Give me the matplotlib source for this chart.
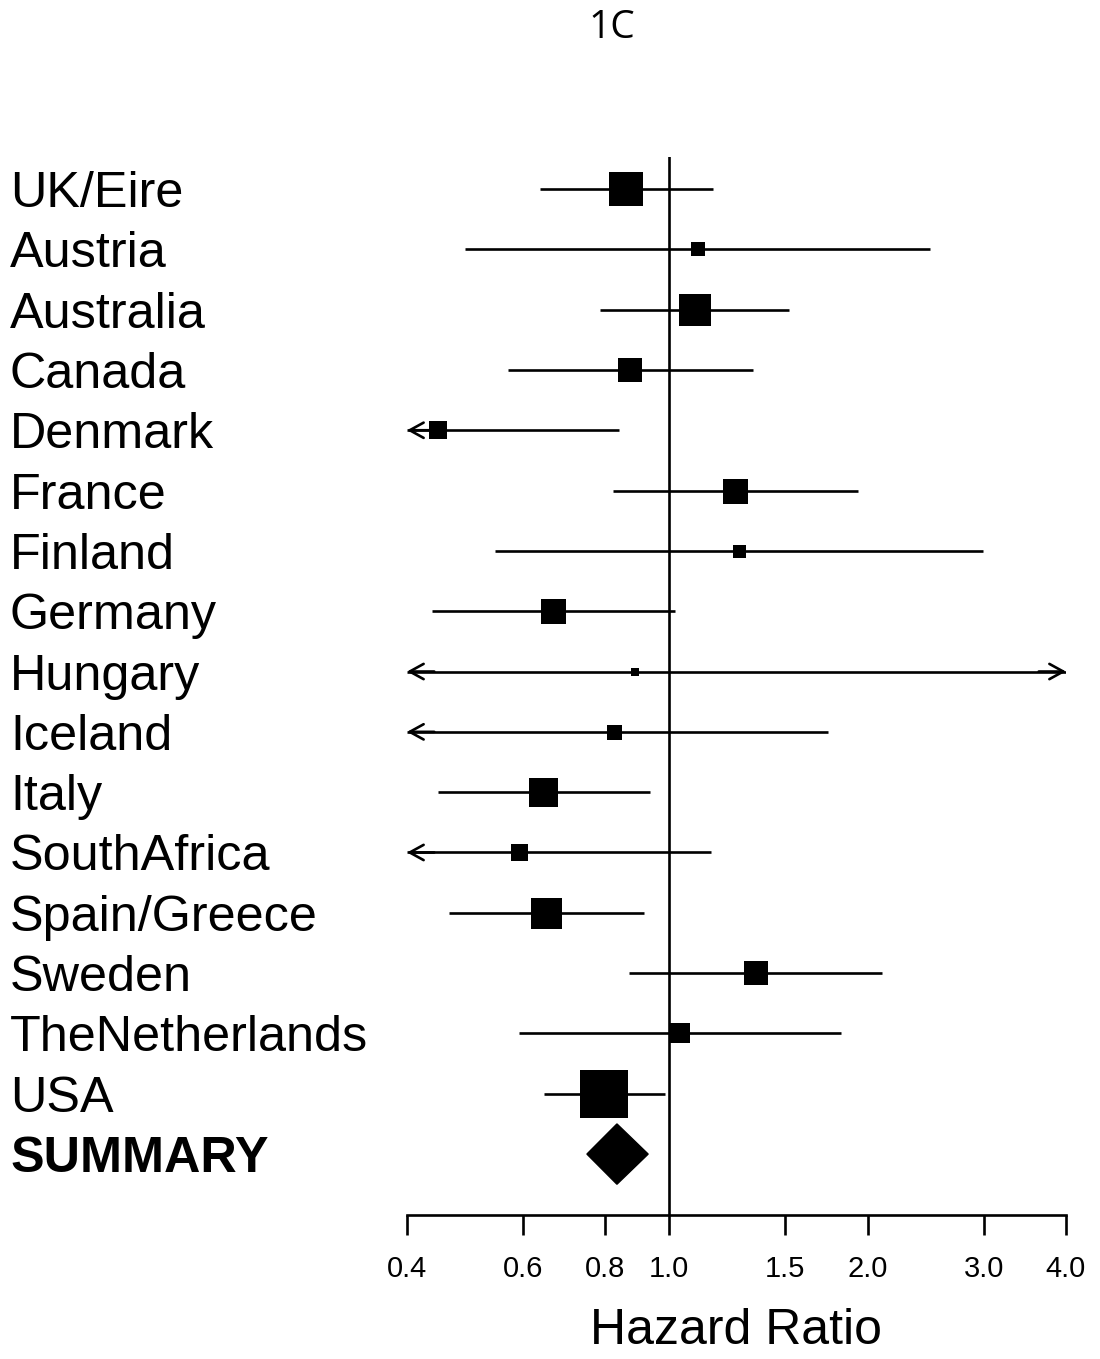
import matplotlib
matplotlib.use("Agg")
import matplotlib.pyplot as plt
import matplotlib.transforms as mtransforms
from matplotlib.ticker import NullLocator

# Forest plot data (hazard ratios)
countries = ["UK/Eire", "Austria", "Australia", "Canada", "Denmark", "France",
             "Finland", "Germany", "Hungary", "Iceland", "Italy", "SouthAfrica",
             "Spain/Greece", "Sweden", "TheNetherlands", "USA"]
hr = [0.859, 1.105, 1.094, 0.871, 0.446, 1.258, 1.276, 0.666, 0.887, 0.824,
      0.643, 0.592, 0.650, 1.354, 1.038, 0.796]
lower = [0.637, 0.490, 0.785, 0.569, 0.30, 0.822, 0.544, 0.436, 0.20, 0.25,
         0.446, 0.30, 0.463, 0.869, 0.592, 0.645]
upper = [1.165, 2.487, 1.519, 1.340, 0.839, 1.932, 2.993, 1.020, 6.0, 1.741,
         0.935, 1.157, 0.915, 2.102, 1.822, 0.985]
# relative study weight -> box side (px)
weight = [34, 14, 32, 24, 18, 25, 13, 25, 8, 15, 29, 17, 31, 24, 20, 48]

summary_label = "SUMMARY"
summary_hr = 0.833
summary_lower = 0.750
summary_upper = 0.929

tick_values = [0.4, 0.6, 0.8, 1.0, 1.5, 2.0, 3.0, 4.0]
tick_labels = ["0.4", "0.6", "0.8", "1.0", "1.5", "2.0", "3.0", "4.0"]

W, H = 1100, 1359
fig = plt.figure(figsize=(W / 100, H / 100), dpi=100)
ax = fig.add_axes([407 / W, 1 - 1215 / H, 659 / W, (1215 - 157) / H])

xmin, xmax = 0.4, 4.0
ax.set_xscale("log")
ax.set_xlim(xmin, xmax)
n = len(countries)
ax.set_ylim(n + 1.01, -0.53)

lw = 1.9
arrow = dict(arrowstyle="->,head_length=1.0,head_width=0.55", color="black",
             lw=lw, shrinkA=0, shrinkB=0)
for i, (c, p, lo, hi, w) in enumerate(zip(countries, hr, lower, upper, weight)):
    lo_c = max(lo, xmin)
    hi_c = min(hi, xmax)
    ax.plot([lo_c, hi_c], [i, i], color="black", lw=lw, solid_capstyle="butt",
            zorder=2)
    # open arrowheads where the interval runs off the axis
    if lo < xmin:
        ax.annotate("", xy=(xmin, i), xytext=(xmin * 1.1, i),
                    arrowprops=arrow, zorder=3)
    if hi > xmax:
        ax.annotate("", xy=(xmax, i), xytext=(xmax / 1.1, i),
                    arrowprops=arrow, zorder=3)
    ax.plot(p, i, marker="s", color="black", markersize=w * 0.72,
            markeredgewidth=0, zorder=4)

# summary diamond
ys = n
ax.fill([summary_lower, summary_hr, summary_upper, summary_hr],
        [ys, ys - 0.5, ys, ys + 0.5], color="black", zorder=4)

ax.axvline(1.0, color="black", lw=lw, zorder=1)

for side in ["top", "right", "left"]:
    ax.spines[side].set_visible(False)
ax.spines["bottom"].set_linewidth(lw)
ax.set_yticks([])
ax.set_xticks(tick_values)
ax.set_xticklabels(tick_labels, family="Liberation Sans", fontsize=21)
ax.xaxis.set_minor_locator(NullLocator())
ax.tick_params(axis="x", direction="out", length=14.5, width=lw, pad=14)
ax.set_xlabel("Hazard Ratio", family="Liberation Sans", fontsize=36, labelpad=18)

# row labels at the left margin, baseline half a cap-height below the row
trans = mtransforms.blended_transform_factory(fig.transFigure, ax.transData)
trans = mtransforms.offset_copy(trans, fig=fig, y=-18, units="dots")
for i, c in enumerate(countries):
    ax.text(10 / W, i, c, transform=trans, ha="left", va="baseline",
            family="Liberation Sans", fontsize=36.3)
ax.text(10 / W, ys, summary_label, transform=trans, ha="left", va="baseline",
        family="Liberation Sans", fontsize=36.3, fontweight="bold")

fig.text(612 / W, 1 - 28 / H, "1C", ha="center", va="center",
         family="Open Sans", fontsize=28)

fig.savefig("out.png", dpi=100)
